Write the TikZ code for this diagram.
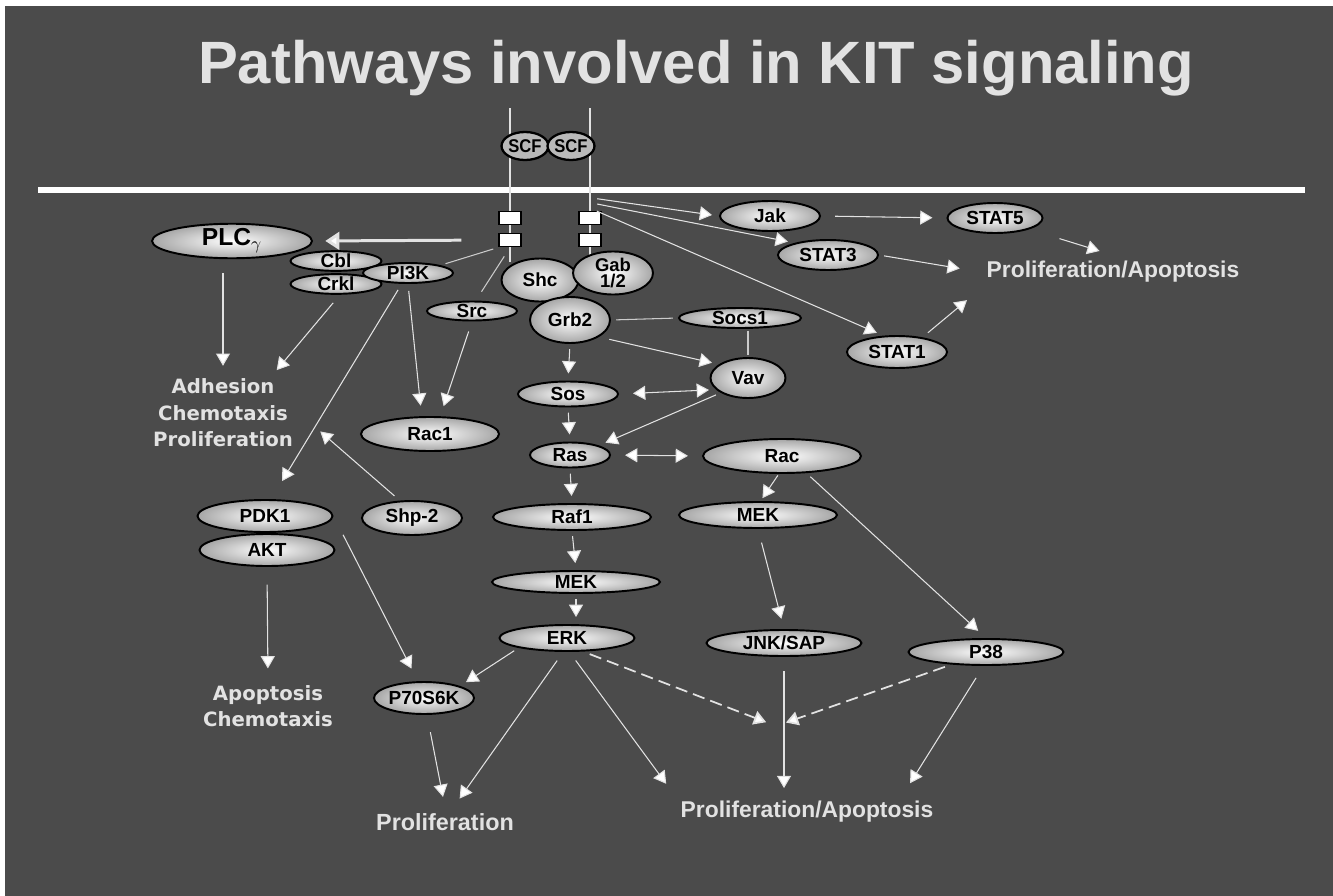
\documentclass[tikz,border=0pt]{standalone}
\usepackage{fontspec}
\setmainfont{Liberation Sans}
\newfontfamily\verdfont{DejaVu Sans}
\usetikzlibrary{shapes.geometric,arrows.meta,positioning}

\definecolor{slide}{RGB}{75,75,75}
\definecolor{pale}{RGB}{226,226,226}

\tikzset{
  prot/.style={ellipse, draw=black, line width=1.1pt, inner sep=0pt,
    shading=radial, inner color=white, outer color=gray!70,
    font=\fontsize{10.8}{10}\selectfont\bfseries},
  ligand/.style={ellipse, draw=black, line width=1.3pt, inner sep=0pt,
    fill=gray!55, font=\fontsize{10.5}{10}\selectfont\bfseries},
  sz/.style 2 args={minimum width=#1*0.02cm, minimum height=#2*0.02cm},
  slot/.style={rectangle, fill=white, draw=black, line width=0.8pt, inner sep=0pt,
    minimum width=0.44cm, minimum height=0.27cm},
  outcome/.style={text=pale, align=center, font=\fontsize{13}{14}\selectfont\bfseries},
  effect/.style={text=pale, align=center, font=\verdfont\fontsize{11.2}{15}\selectfont\bfseries},
  flow/.style={color=pale, line width=0.6pt, shorten <=3pt, shorten >=4pt,
    -{Triangle[length=7pt,width=8pt,fill=white]}},
  bothflow/.style={flow, {Triangle[length=7pt,width=8pt,fill=white]}-{Triangle[length=7pt,width=8pt,fill=white]}},
  dashflow/.style={flow, line width=1pt, dash pattern=on 7pt off 3.5pt},
  link/.style={color=pale!90!black, line width=0.6pt, shorten <=3pt, shorten >=3pt}
}

\begin{document}
\begin{tikzpicture}[x=0.02cm, y=-0.02cm]
  \useasboundingbox (0,0) rectangle (1333,896);
  \fill[white] (0,0) rectangle (1333,896);
  \fill[slide] (5,6) rectangle (1333,896);

  \node[text=black!70, font=\fontsize{34}{36}\selectfont\bfseries] at (697.5,69.5)
    {Pathways involved in KIT signaling};
  \node[text=pale, font=\fontsize{34}{36}\selectfont\bfseries] (title) at (696,68)
    {Pathways involved in KIT signaling};

  % membrane and receptor
  \draw[white, line width=3.4pt] (38,190) -- (1305,190);
  \draw[pale, line width=0.7pt] (510,108) -- (510,262);
  \draw[pale, line width=0.7pt] (590,108) -- (590,256);
  \node[ligand,sz={46}{28}] (scf1) at (525,146) {\scalebox{0.9}[1]{SCF}};
  \node[ligand,sz={46}{28}] (scf2) at (571,146) {\scalebox{0.9}[1]{SCF}};
  \node[slot] (lb1) at (510,218) {};
  \node[slot] (lb2) at (510,240) {};
  \node[slot] (rb1) at (590,218) {};
  \node[slot] (rb2) at (590,240) {};
  \coordinate (kitA) at (592,198);
  \coordinate (kitB) at (592,203);
  \coordinate (kitC) at (592,209);

  % adaptors
  \node[prot,sz={160}{27},font=\fontsize{14}{13}\selectfont\bfseries] (plc) at (232,241) {PLC$_{\gamma}$};
  \node[prot,sz={91}{18}] (cbl) at (336,261) {Cbl};
  \node[prot,sz={91}{18}] (crkl) at (336,284) {Crkl};
  \node[prot,sz={90}{20}] (pi3k) at (408,273) {PI3K};
  \node[prot,sz={90}{18}] (src) at (472,311) {Src};
  \node[prot,sz={77}{43}] (shc) at (540,280) {Shc};
  \node[prot,sz={80}{40},align=center,font=\fontsize{10.5}{9.5}\selectfont\bfseries] (gab) at (613,273) {Gab\\1/2};
  \node[prot,sz={80}{46}] (grb2) at (570,320) {Grb2};
  \node[prot,sz={122}{20}] (socs1) at (740,318) {Socs1};
  \node[prot,sz={75}{40}] (vav) at (748,378) {Vav};

  % JAK/STAT
  \node[prot,sz={100}{30}] (jak) at (770,216) {Jak};
  \node[prot,sz={95}{30}] (stat5) at (995,218) {STAT5};
  \node[prot,sz={100}{30}] (stat3) at (828,255) {STAT3};
  \node[prot,sz={100}{32}] (stat1) at (897,352) {STAT1};
  \node[outcome] (prtop) at (1113,272) {Proliferation/Apoptosis};

  % MAPK cascades
  \node[prot,sz={100}{25}] (sos) at (568,394) {Sos};
  \node[prot,sz={80}{25}] (ras) at (570,455) {Ras};
  \node[prot,sz={158}{34}] (rac) at (782,456) {Rac};
  \node[prot,sz={158}{26}] (raf1) at (572,517) {Raf1};
  \node[prot,sz={158}{26}] (mekb) at (758,515) {MEK};
  \node[prot,sz={168}{22}] (meka) at (576,582) {MEK};
  \node[prot,sz={135}{26}] (erk) at (567,638) {ERK};
  \node[prot,sz={155}{26}] (jnk) at (784,643) {JNK/SAP};
  \node[prot,sz={155}{26}] (p38) at (986,652) {P38};
  \coordinate (merge) at (776,726);
  \node[outcome] (prbot) at (807,812) {Proliferation/Apoptosis};

  % PI3K branch
  \node[effect] (adh) at (223,413) {Adhesion\\Chemotaxis\\Proliferation};
  \node[prot,sz={138}{34}] (rac1) at (430,434) {Rac1};
  \node[prot,sz={135}{32}] (pdk1) at (265,516) {PDK1};
  \node[prot,sz={135}{32}] (akt) at (267,550) {AKT};
  \node[prot,sz={100}{34}] (shp2) at (412,518) {Shp-2};
  \node[effect] (apop) at (268,706) {Apoptosis\\Chemotaxis};
  \node[prot,sz={100}{32}] (p70) at (424,698) {P70S6K};
  \node[outcome,font=\fontsize{13.3}{14}\selectfont\bfseries] (prolif) at (445,822) {Proliferation};

  \draw[flow, line width=1.7pt, shorten <=21pt, shorten >=7pt,
    -{Triangle[length=8pt,width=10pt,fill=white]}] (lb2.west) -- (plc.east);
  \path[link]
    (lb2.south west) edge (pi3k.north east)
    (lb2.south) edge[shorten <=6pt, shorten >=6pt] (src.70)
    (grb2.east) edge (socs1.west)
    (vav.north |- socs1.south) edge[shorten <=1pt, shorten >=1pt] (vav.north);
  \path[flow]
    (kitA) edge (jak.west)
    (kitB) edge (stat3.160)
    (kitC) edge (stat1.130)
    (jak.east) edge[shorten <=8pt, shorten >=8pt] (stat5.west)
    (stat5.south east) edge[shorten <=18pt, shorten >=8pt] (prtop.north)
    (stat3.east) edge[shorten >=12pt] (prtop.west)
    (stat1.30) edge[shorten <=4pt, shorten >=10pt] (prtop.south west)
    (grb2.south east) edge[shorten <=6pt] (vav.155)
    (grb2.south) edge (sos.north)
    (sos.south) edge (ras.north)
    (vav.south west) edge (ras.north east)
    (rac.-100) edge[shorten <=1pt, shorten >=2pt] (mekb.80)
    (ras.south) edge (raf1.north)
    (raf1.south) edge (meka.north)
    (meka.south) edge (meka.south |- erk.north)
    (mekb.south) edge[shorten <=8pt, shorten >=6pt] (jnk.north)
    (rac.-35) edge[shorten >=6pt] (p38.north)
    (erk.south west) edge (p70.north east)
    (erk.-105) edge[shorten <=6pt, shorten >=6pt] (prolif.60)
    (erk.-80) edge[shorten <=6pt, shorten >=8pt] (prbot.north west)
    (jnk.south) edge[shorten <=8pt] (jnk.south |- prbot.north)
    (p38.-100) edge[shorten <=8pt, shorten >=8pt] (prbot.10)
    (plc.south -| adh.north) edge[shorten <=8pt] (adh.north)
    (crkl.-70) edge[shorten <=6pt, shorten >=2pt] (adh.38)
    (pi3k.south) edge[shorten <=4pt, shorten >=6pt] (rac1.115)
    (src.-90) edge[shorten <=6pt, shorten >=6pt] (rac1.60)
    (pi3k.-120) edge[shorten <=4pt, shorten >=12pt] (pdk1.70)
    (shp2.125) edge[shorten <=4pt, shorten >=16pt] (adh.east)
    (akt.south) edge[shorten <=10pt, shorten >=6pt] (apop.north)
    (pdk1.east) edge[shorten <=12pt, shorten >=8pt] (p70.110)
    (p70.-80) edge[shorten <=10pt, shorten >=6pt] (prolif.north);
  \path[bothflow]
    (sos.east) edge[shorten <=8pt] (vav.200)
    (ras.east) edge[shorten <=8pt, shorten >=8pt] (rac.west);
  \path[dashflow]
    (erk.-40) edge[shorten <=4pt, shorten >=6pt] (merge)
    (p38.200) edge[shorten <=4pt, shorten >=6pt] (merge);
\end{tikzpicture}
\end{document}
